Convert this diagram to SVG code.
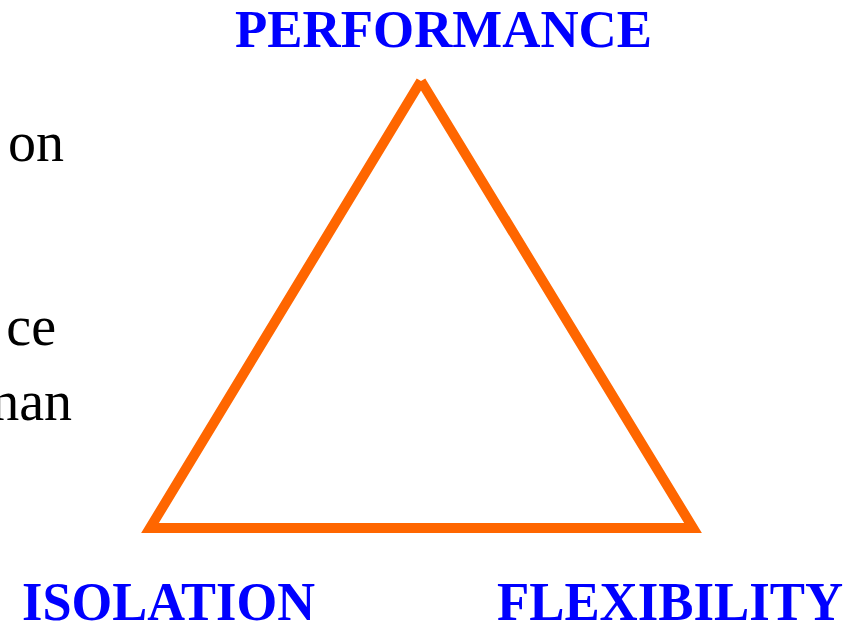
<svg xmlns="http://www.w3.org/2000/svg" width="857" height="624" viewBox="0 0 857 624">
<style>
.lbl{font-family:"Liberation Serif","Times New Roman",serif;font-weight:bold;font-size:54px;fill:#0000FF}
.body{font-family:"Liberation Serif","Times New Roman",serif;font-size:56px;fill:#000000}
.tri{fill:none;stroke:#FF6600;stroke-width:10;stroke-linejoin:miter;stroke-linecap:butt;stroke-miterlimit:10}
</style>
<rect width="857" height="624" fill="#FFFFFF"/>
<g id="body-text">
<text class="body" x="64" y="161" text-anchor="end">on</text>
<text class="body" x="56" y="345" text-anchor="end">ce</text>
<text class="body" x="72" y="420" text-anchor="end">nan</text>
</g>
<g id="connectors">
<path class="tri" d="M421,81 L150,528 L693,528 L421,81"/>
</g>
<g id="node-performance">
<text class="lbl" x="235" y="47" textLength="417" lengthAdjust="spacingAndGlyphs" style="font-size:53px">PERFORMANCE</text>
</g>
<g id="node-isolation">
<text class="lbl" x="22" y="620" textLength="293" lengthAdjust="spacingAndGlyphs">ISOLATION</text>
</g>
<g id="node-flexibility">
<text class="lbl" x="497" y="620" textLength="346" lengthAdjust="spacingAndGlyphs">FLEXIBILITY</text>
</g>
</svg>
